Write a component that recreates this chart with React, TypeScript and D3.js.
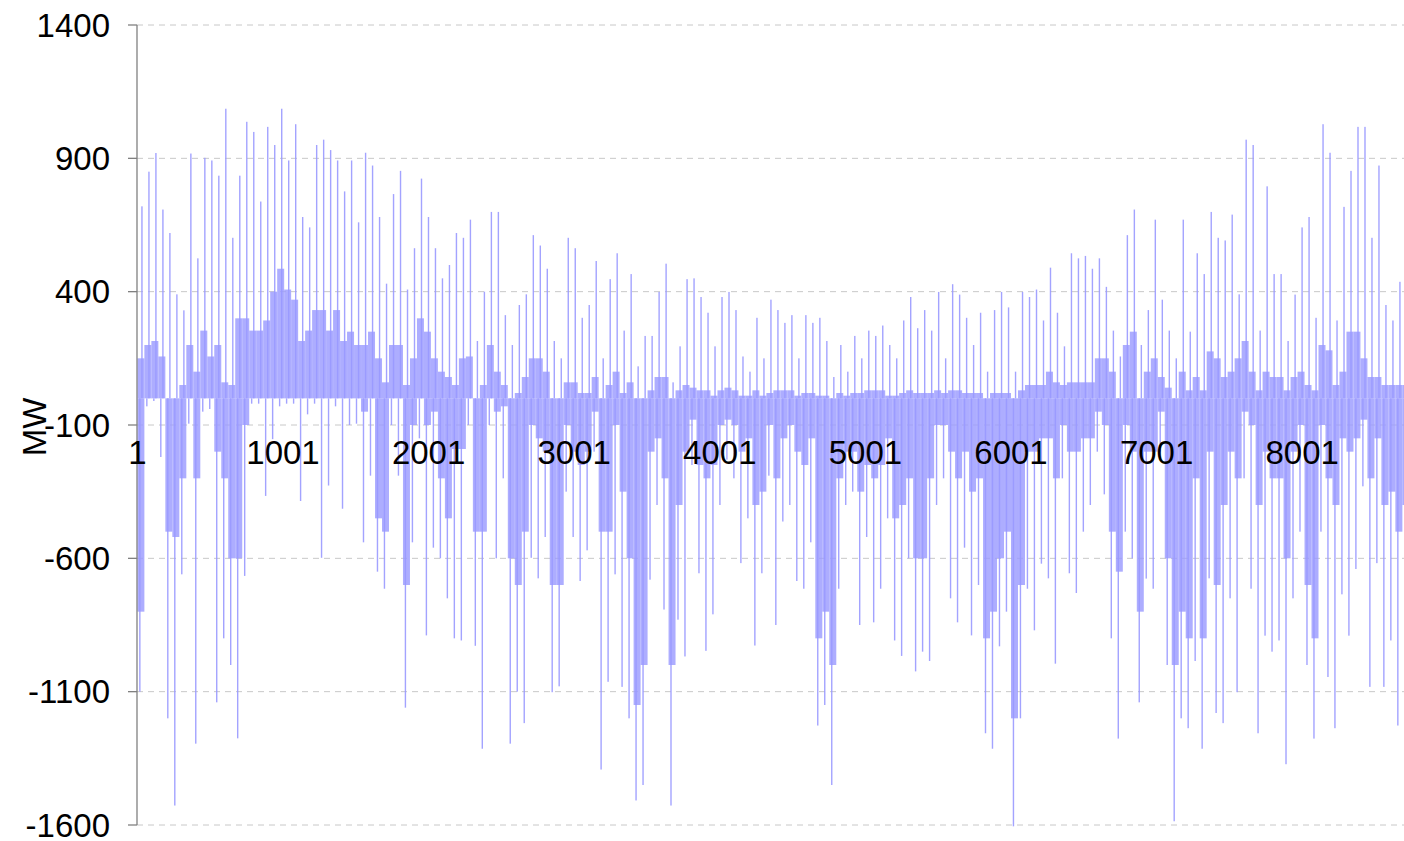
import React from "react";
import * as d3 from "d3";

// Hour-of-year bins (48 hours each), values in MW
const BIN_HOURS = 48;

const posPeak: number[] = [
  720, 850, 920, 708, 620, 390, 330, 918, 525, 902, 892, 835, 1086, 602, 835,
  1037, 999, 738, 1018, 950, 1086, 892, 1028, 680, 641, 950, 970, 931, 892, 776,
  892, 660, 921, 873, 680, 430, 766, 853, 408, 563, 824, 680, 563, 450, 500,
  620, 602, 670, 215, 400, 699, 699, 312, 200, 350, 390, 612, 573, 486, 215,
  150, 602, 563, 302, 350, 515, 150, 447, 544, 254, 466, 120, 234, 234, 399,
  505, 60, 195, 447, 450, 380, 321, 195, 380, 399, 331, 157, 100, 302, 150,
  370, 331, 283, 312, 150, 312, 283, 302, 215, 80, 200, 100, 234, 150, 254,
  234, 273, 200, 150, 292, 380, 263, 331, 254, 399, 150, 428, 389, 302, 200,
  321, 100, 331, 399, 341, 100, 399, 380, 408, 292, 490, 321, 195, 544, 525,
  534, 486, 525, 418, 254, 157, 612, 708, 200, 331, 670, 370, 254, 150, 670,
  250, 544, 466, 699, 602, 592, 689, 390, 970, 950, 254, 795, 466, 466, 215,
  389, 641, 680, 302, 1028, 921, 292, 718, 853, 1018, 1018, 602, 873, 350, 292,
  437, 400, 400,
];

const posCore: number[] = [
  150, 200, 215, 157, 0, 0, 50, 200, 100, 254, 157, 200, 60, 50, 300,
  300, 254, 254, 292, 400, 486, 408, 370, 215, 254, 331, 331, 254, 331, 215,
  250, 200, 200, 250, 150, 60, 200, 200, 50, 150, 300, 250, 150, 100, 80,
  50, 150, 157, 0, 50, 200, 100, 50, 0, 20, 80, 150, 150, 100, 0,
  0, 60, 60, 20, 20, 80, 0, 50, 100, 20, 60, 0, 0, 30, 80,
  80, 0, 30, 50, 40, 30, 30, 10, 30, 40, 30, 10, 10, 30, 10,
  20, 30, 30, 30, 10, 20, 20, 10, 10, 0, 20, 10, 20, 20, 30,
  30, 30, 10, 10, 20, 30, 20, 20, 20, 30, 20, 30, 30, 20, 20,
  20, 0, 20, 20, 20, 0, 30, 50, 50, 50, 100, 60, 50, 60, 60,
  60, 60, 150, 150, 100, 0, 200, 250, 0, 100, 150, 80, 40, 0, 100,
  30, 80, 30, 176, 150, 80, 100, 150, 215, 100, 30, 100, 80, 80, 30,
  80, 100, 50, 30, 200, 180, 50, 100, 250, 250, 150, 80, 80, 50, 50,
  50, 50, 50,
];

const negPeak: number[] = [
  -1100, -30, -10, -220, -1200, -1527, -660, -95, -1295, -50, -40, -1140, -900, -1000, -1275,
  -666, -20, -20, -366, -153, -30, -20, -20, -385, -60, -20, -598, -327, -30, -414,
  -100, -95, -540, -290, -650, -714, -100, -290, -1160, -540, -150, -889, -560, -600, -750,
  -900, -908, -100, -928, -1314, -100, -600, -300, -1295, -1100, -1218, -598, -675, -520, -1102,
  -1080, -350, -520, -685, -570, -200, -1392, -1063, -660, -1082, -1200, -1508, -1450, -680, -400,
  -792, -1527, -830, -968, -250, -656, -947, -810, -400, -230, -300, -618, -450, -927, -656,
  -290, -850, -462, -400, -685, -714, -540, -1227, -1150, -1450, -714, -400, -350, -850, -520,
  -840, -714, -450, -908, -966, -600, -1024, -950, -985, -400, -300, -750, -840, -560, -889,
  -700, -1256, -1314, -930, -800, -1605, -1200, -714, -870, -620, -675, -995, -300, -656, -730,
  -500, -400, -200, -360, -900, -1276, -500, -600, -1140, -676, -714, -200, -1000, -1586, -1200,
  -1237, -985, -1314, -675, -1180, -1218, -750, -1102, -300, -714, -1256, -890, -950, -908, -1372,
  -750, -500, -1000, -1276, -500, -1045, -1237, -735, -890, -640, -330, -1082, -618, -1082, -908,
  -1227, -900, -1000,
];

const negCore: number[] = [
  -800, 0, 0, 0, -500, -520, -300, 0, -300, 0, 0, -200, -300, -600, -600,
  -100, 0, 0, 0, 0, 0, 0, 0, 0, 0, 0, 0, 0, 0, 0,
  0, 0, -50, 0, -450, -500, 0, 0, -700, -100, 0, -100, -50, -300, -450,
  -190, -190, 0, -500, -500, 0, -50, -30, -600, -700, -500, -100, -150, -200, -700,
  -700, -100, -200, -250, -200, -50, -500, -500, -100, -350, -600, -1150, -1000, -200, -150,
  -300, -1000, -400, -200, -80, -250, -300, -250, -100, -80, -100, -200, -150, -400, -350,
  -100, -300, -150, -100, -200, -250, -150, -900, -800, -1000, -300, -200, -200, -350, -250,
  -300, -250, -150, -450, -400, -300, -600, -600, -300, -100, -100, -200, -300, -200, -350,
  -300, -900, -800, -600, -500, -1200, -700, -200, -200, -150, -150, -300, -100, -200, -200,
  -150, -150, -50, -100, -500, -650, -100, -200, -800, -200, -200, -50, -600, -1000, -800,
  -900, -300, -900, -200, -700, -400, -200, -300, -50, -100, -400, -200, -300, -300, -600,
  -200, -100, -700, -900, -100, -300, -400, -150, -200, -150, -80, -300, -150, -400, -350,
  -500, -400, -400,
];

const yTicks: number[] = [1400, 900, 400, -100, -600, -1100, -1600];
const xTickLabels: number[] = [1, 1001, 2001, 3001, 4001, 5001, 6001, 7001, 8001];
const yTitle = "MW";

const W = 1404;
const H = 841;
const FONT = "'Liberation Sans', Arial, Helvetica, sans-serif";
const BAR = "#9999ff";
const FS = 33;

export default function App() {
  const x = d3
    .scaleLinear()
    .domain([1, 8761])
    .range([137.4, 137.4 + 8760 * 0.1456]);
  const y = d3.scaleLinear().domain([-1600, 1400]).range([825, 25]);
  const y0 = y(0);

  const bins = posPeak.map((_, k) => {
    const h0 = k * BIN_HOURS + 1;
    const h1 = Math.min(h0 + BIN_HOURS, 8761);
    return { k, x0: x(h0), x1: x(h1) };
  });

  return (
    <svg
      width={W}
      height={H}
      style={{ position: "absolute", left: 0, top: 0, display: "block", background: "#fff" }}
    >
      {/* gridlines */}
      {yTicks.map((t) => (
        <line
          key={"g" + t}
          x1={137}
          x2={W}
          y1={y(t)}
          y2={y(t)}
          stroke="#c8c8c8"
          strokeWidth={1}
          strokeDasharray="6,5"
        />
      ))}
      {/* bars */}
      <g>
        {bins.map((b) => {
          const w = b.x1 - b.x0;
          const pc = posCore[b.k];
          const pp = posPeak[b.k];
          const nc = negCore[b.k];
          const np = negPeak[b.k];
          const sx = b.x0 + w * 0.55;
          return (
            <g key={b.k}>
              {pc > 0 && (
                <rect x={b.x0} y={y(pc)} width={w} height={y0 - y(pc)} fill={BAR} opacity={0.8} />
              )}
              <rect x={sx} y={y(pp)} width={1.4} height={y0 - y(pp)} fill={BAR} opacity={0.9} />
              {nc < 0 && (
                <rect x={b.x0} y={y0} width={w} height={y(nc) - y0} fill={BAR} opacity={0.8} />
              )}
              <rect x={b.x0 + w * 0.25} y={y0} width={1.4} height={y(np) - y0} fill={BAR} opacity={0.9} />
            </g>
          );
        })}
      </g>
      {/* y axis */}
      <line x1={137} x2={137} y1={25} y2={825} stroke="#808080" strokeWidth={1.3} />
      {yTicks.map((t) => (
        <g key={"t" + t}>
          <line x1={128} x2={137} y1={y(t)} y2={y(t)} stroke="#808080" strokeWidth={1.3} />
          <text
            x={110}
            y={y(t)}
            textAnchor="end"
            dominantBaseline="central"
            fontFamily={FONT}
            fontSize={FS}
            fill="#000"
          >
            {t}
          </text>
        </g>
      ))}
      {/* x labels */}
      {xTickLabels.map((l) => (
        <text
          key={"x" + l}
          x={x(l)}
          y={452}
          textAnchor="middle"
          dominantBaseline="central"
          fontFamily={FONT}
          fontSize={FS}
          fill="#000"
        >
          {l}
        </text>
      ))}
      <text
        transform={`translate(34, ${y(-100) + 2}) rotate(-90)`}
        textAnchor="middle"
        dominantBaseline="central"
        fontFamily={FONT}
        fontSize={FS}
        fill="#000"
      >
        {yTitle}
      </text>
    </svg>
  );
}
